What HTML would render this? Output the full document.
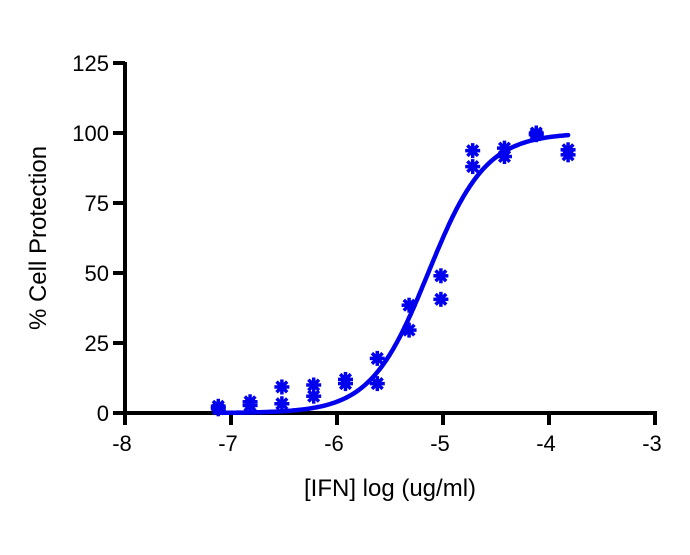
<!DOCTYPE html>
<html><head><meta charset="utf-8"><style>
body{margin:0;background:#fff;}
svg text{font-family:"Liberation Sans",sans-serif;fill:#000;}
</style></head><body>
<svg id="chart" width="690" height="550" viewBox="0 0 690 550" xmlns="http://www.w3.org/2000/svg">
<g id="axes"></g><g id="curve"></g><g id="points"></g>
<text x="0" y="0" font-size="24" text-anchor="middle" transform="translate(46,238) rotate(-90)">% Cell Protection</text>
<text x="390" y="496" font-size="24" text-anchor="middle">[IFN] log (ug/ml)</text>
</svg>
<script>
const logDose = [-7.12,-6.82,-6.52,-6.22,-5.92,-5.62,-5.32,-5.02,-4.72,-4.42,-4.12,-3.82];
const rep1 = [2.4,4,9.3,10,12,19.5,38.5,49,93.7,94.6,100,94];
const rep2 = [1.5,2.7,3.3,6,10.5,10.5,29.6,40.6,88,91.6,99.4,92.2];
const xTicks = [-8,-7,-6,-5,-4,-3];
const yTicks = [0,25,50,75,100,125];
const fitBottom = 0, fitTop = 100, fitLogEC50 = -5.14, fitHill = 1.6;

const NS="http://www.w3.org/2000/svg";
const X0=125,X1=655,Y0=413,Y1=63;
const sx=v=>X0+(v+8)/5*(X1-X0);
const sy=v=>Y0-v/125*(Y0-Y1);
function mk(t,a,p){const e=document.createElementNS(NS,t);for(const k in a)e.setAttribute(k,a[k]);p.appendChild(e);return e;}
const ax=document.getElementById('axes');
let yl=mk('line',{x1:X0,y1:Y1-1,x2:X0,y2:Y0+2,stroke:'#000','stroke-width':4},ax);


let xl=mk('line',{x1:X0-2,y1:Y0,x2:X1+2,y2:Y0,stroke:'#000','stroke-width':4},ax);


yTicks.forEach(v=>{
 let l=mk('line',{x1:X0-12,y1:sy(v),x2:X0,y2:sy(v),stroke:'#000','stroke-width':4},ax);
 
 
 let t=mk('text',{x:X0-16,y:sy(v)+8,'font-size':22,'text-anchor':'end'},ax);t.textContent=v;
 
 
});
xTicks.forEach(v=>{
 let l=mk('line',{x1:sx(v),y1:Y0,x2:sx(v),y2:Y0+12,stroke:'#000','stroke-width':4},ax);
 
 
 let t=mk('text',{x:sx(v)-3,y:Y0+38,'font-size':22,'text-anchor':'middle'},ax);t.textContent=v;
 
 
});
const f=x=>fitBottom+(fitTop-fitBottom)/(1+Math.pow(10,(fitLogEC50-x)*fitHill));
let d='';const xa=logDose[0],xb=logDose[logDose.length-1];
for(let i=0;i<=200;i++){const x=xa+(xb-xa)*i/200;d+=(i?'L':'M')+sx(x).toFixed(1)+','+sy(f(x)).toFixed(1);}
let c=mk('path',{d:d,fill:'none',stroke:'#0000ee','stroke-width':4.5,'stroke-linecap':'round'},document.getElementById('curve'));


const pg=document.getElementById('points');
function star(x,y){
 const g=mk('g',{},pg);
 
 
 for(let k=0;k<4;k++){const a=k*Math.PI/4,r=7.5;
  mk('line',{x1:x-r*Math.cos(a),y1:y-r*Math.sin(a),x2:x+r*Math.cos(a),y2:y+r*Math.sin(a),stroke:'#0000ee','stroke-width':3.5},g);}
 mk('circle',{cx:x,cy:y,r:4,fill:'#0000ee'},g);
}
logDose.forEach((x,i)=>{star(sx(x),sy(rep1[i]));star(sx(x),sy(rep2[i]));});
</script>
</body></html>
